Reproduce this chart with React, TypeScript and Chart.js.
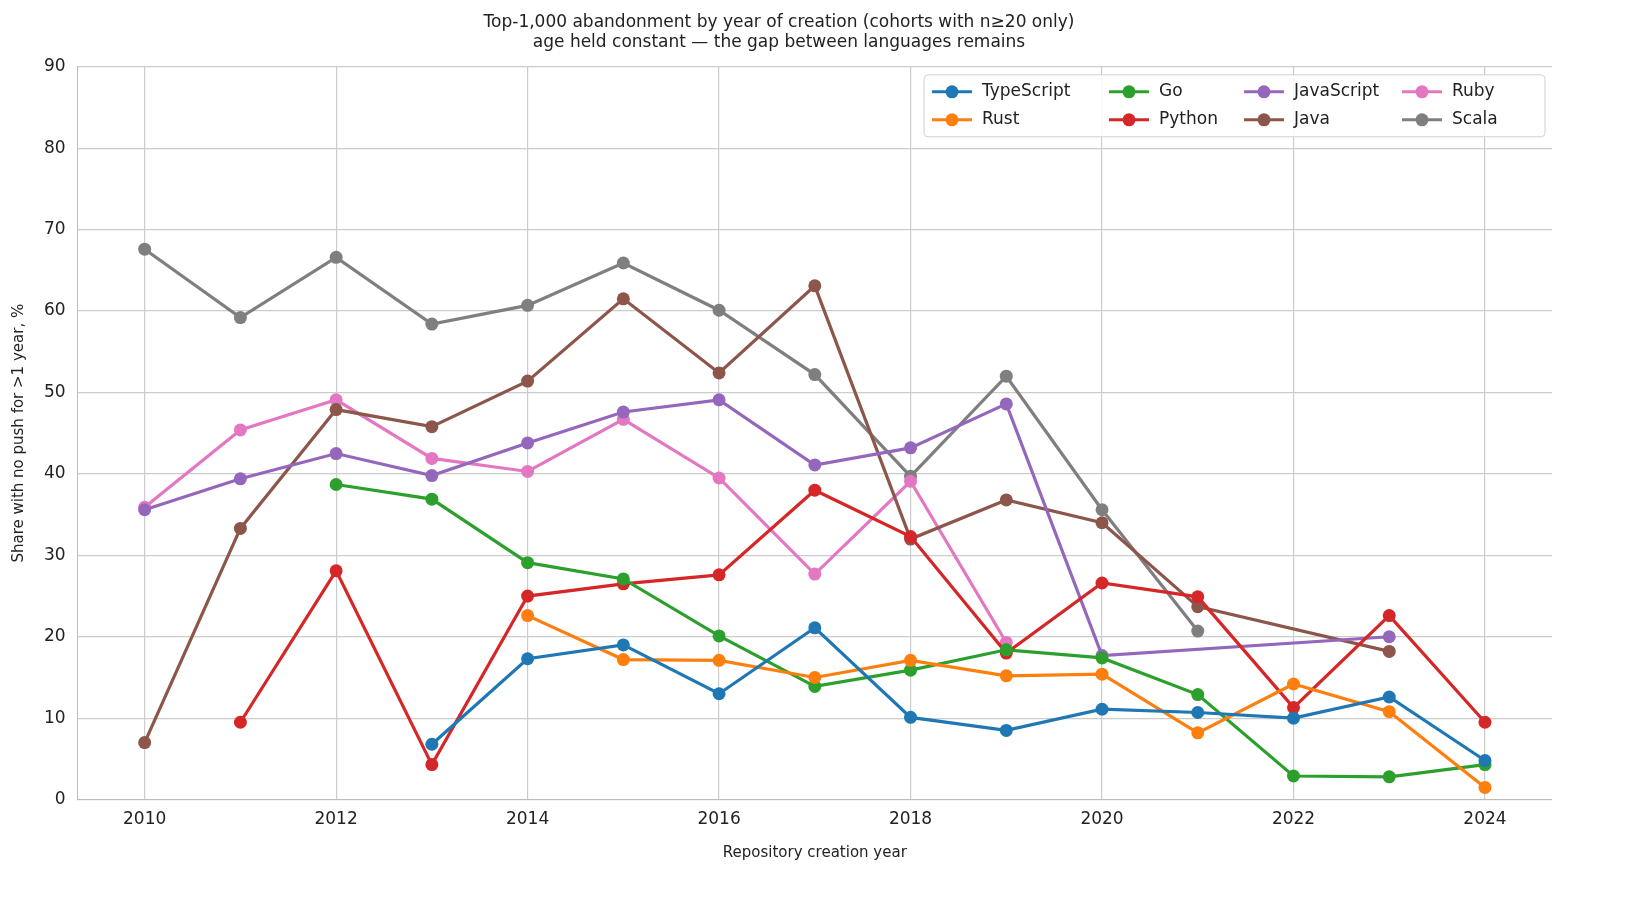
import React, { useEffect, useRef } from "react";
import { Chart, registerables } from "chart.js";
Chart.register(...registerables);

const years = [2010, 2011, 2012, 2013, 2014, 2015, 2016, 2017, 2018, 2019, 2020, 2021, 2022, 2023, 2024];
const typescript = [null, null, null, 6.8, 17.3, 19.0, 13.0, 21.1, 10.1, 8.5, 11.1, 10.7, 10.0, 12.6, 4.8];
const rust = [null, null, null, null, 22.6, 17.2, 17.1, 15.0, 17.1, 15.2, 15.4, 8.2, 14.2, 10.8, 1.5];
const go = [null, null, 38.7, 36.9, 29.1, 27.1, 20.1, 13.9, 15.9, 18.4, 17.4, 12.9, 2.9, 2.8, 4.3];
const python = [null, 9.5, 28.1, 4.3, 25.0, 26.5, 27.6, 38.0, 32.3, 18.0, 26.6, 24.9, 11.3, 22.6, 9.5];
const javascript = [35.6, 39.4, 42.5, 39.8, 43.8, 47.6, 49.1, 41.1, 43.2, 48.6, 17.7, null, null, 20.0, null];
const java = [7.0, 33.3, 47.9, 45.8, 51.4, 61.5, 52.4, 63.1, 32.0, 36.8, 34.0, 23.7, null, 18.2, null];
const ruby = [35.9, 45.4, 49.1, 41.9, 40.3, 46.7, 39.5, 27.7, 39.1, 19.3, null, null, null, null, null];
const scala = [67.6, 59.2, 66.6, 58.4, 60.7, 65.9, 60.1, 52.2, 39.7, 52.0, 35.6, 20.7, null, null, null];

const series: [string, (number | null)[], string][] = [
  ["TypeScript", typescript, "#1f77b4"],
  ["Rust", rust, "#ff7f0e"],
  ["Go", go, "#2ca02c"],
  ["Python", python, "#d62728"],
  ["JavaScript", javascript, "#9467bd"],
  ["Java", java, "#8c564b"],
  ["Ruby", ruby, "#e377c2"],
  ["Scala", scala, "#7f7f7f"],
];

const FONT = "'DejaVu Sans', sans-serif";

const legendPlugin = {
  id: "boxLegend",
  afterDraw(chart: any) {
    const { ctx, chartArea } = chart;
    const colW = [177, 135, 158, 136];
    const w = colW.reduce((a, b) => a + b, 0) + 15;
    const h = 62;
    const x0 = chartArea.right - w - 7;
    const y0 = chartArea.top + 8;
    ctx.save();
    ctx.fillStyle = "rgba(255,255,255,0.85)";
    ctx.strokeStyle = "#d0d0d0";
    ctx.lineWidth = 1;
    ctx.beginPath();
    (ctx as any).roundRect(x0, y0, w, h, 4);
    ctx.fill();
    ctx.stroke();
    ctx.font = `17px ${FONT}`;
    ctx.textBaseline = "middle";
    series.forEach(([name, , color], i) => {
      const col = Math.floor(i / 2);
      const row = i % 2;
      let cx = x0 + 8;
      for (let c = 0; c < col; c++) cx += colW[c];
      const cy = y0 + 17 + row * 28;
      ctx.strokeStyle = color;
      ctx.lineWidth = 3;
      ctx.beginPath();
      ctx.moveTo(cx, cy);
      ctx.lineTo(cx + 40, cy);
      ctx.stroke();
      ctx.fillStyle = color;
      ctx.beginPath();
      ctx.arc(cx + 20, cy, 6.5, 0, Math.PI * 2);
      ctx.fill();
      ctx.fillStyle = "#222";
      ctx.fillText(name, cx + 50, cy);
    });
    ctx.restore();
  },
};

export default function App() {
  const ref = useRef<HTMLCanvasElement>(null);
  useEffect(() => {
    const chart = new Chart(ref.current!, {
      type: "line",
      data: {
        datasets: series.map(([label, vals, color]) => ({
          label,
          data: years.map((y, i) => ({ x: y, y: vals[i] })),
          borderColor: color,
          backgroundColor: color,
          borderWidth: 3.2,
          pointRadius: 6.5,
          pointBorderWidth: 0,
          spanGaps: true,
        })),
      },
      options: {
        animation: false,
        responsive: false,
        layout: { padding: { left: 6, right: 18, top: 4, bottom: 4 } },
        plugins: {
          legend: { display: false },
          tooltip: { enabled: false },
          title: {
            display: true,
            text: [
              "Top-1,000 abandonment by year of creation (cohorts with n≥20 only)",
              "age held constant — the gap between languages remains",
            ],
            color: "#222",
            font: { family: FONT, size: 17, weight: "normal" },
            padding: { top: 8, bottom: 14 },
          },
        },
        scales: {
          x: {
            type: "linear",
            min: 2009.3,
            max: 2024.7,
            afterBuildTicks: (axis: any) => {
              axis.ticks = [2010, 2012, 2014, 2016, 2018, 2020, 2022, 2024].map((v) => ({ value: v }));
            },
            ticks: { color: "#222", font: { family: FONT, size: 17 }, padding: 10, callback: (v: any) => String(v) },
            grid: { color: "#cccccc", lineWidth: 1.2, drawTicks: false },
            border: { color: "#bbbbbb" },
            title: { display: true, text: "Repository creation year", color: "#222", font: { family: FONT, size: 15 }, padding: { top: 4 } },
          },
          y: {
            min: 0,
            max: 90,
            ticks: { stepSize: 10, color: "#222", font: { family: FONT, size: 17 }, padding: 12 },
            grid: { color: "#cccccc", lineWidth: 1.2, drawTicks: false },
            border: { color: "#bbbbbb" },
            title: { display: true, text: "Share with no push for >1 year, %", color: "#222", font: { family: FONT, size: 15 } },
          },
        },
      },
      plugins: [legendPlugin],
    });
    return () => chart.destroy();
  }, []);
  return (
    <div style={{ position: "absolute", left: 0, top: 0 }}>
      <canvas ref={ref} width={1570} height={870} style={{ width: 1570, height: 870 }} />
    </div>
  );
}
